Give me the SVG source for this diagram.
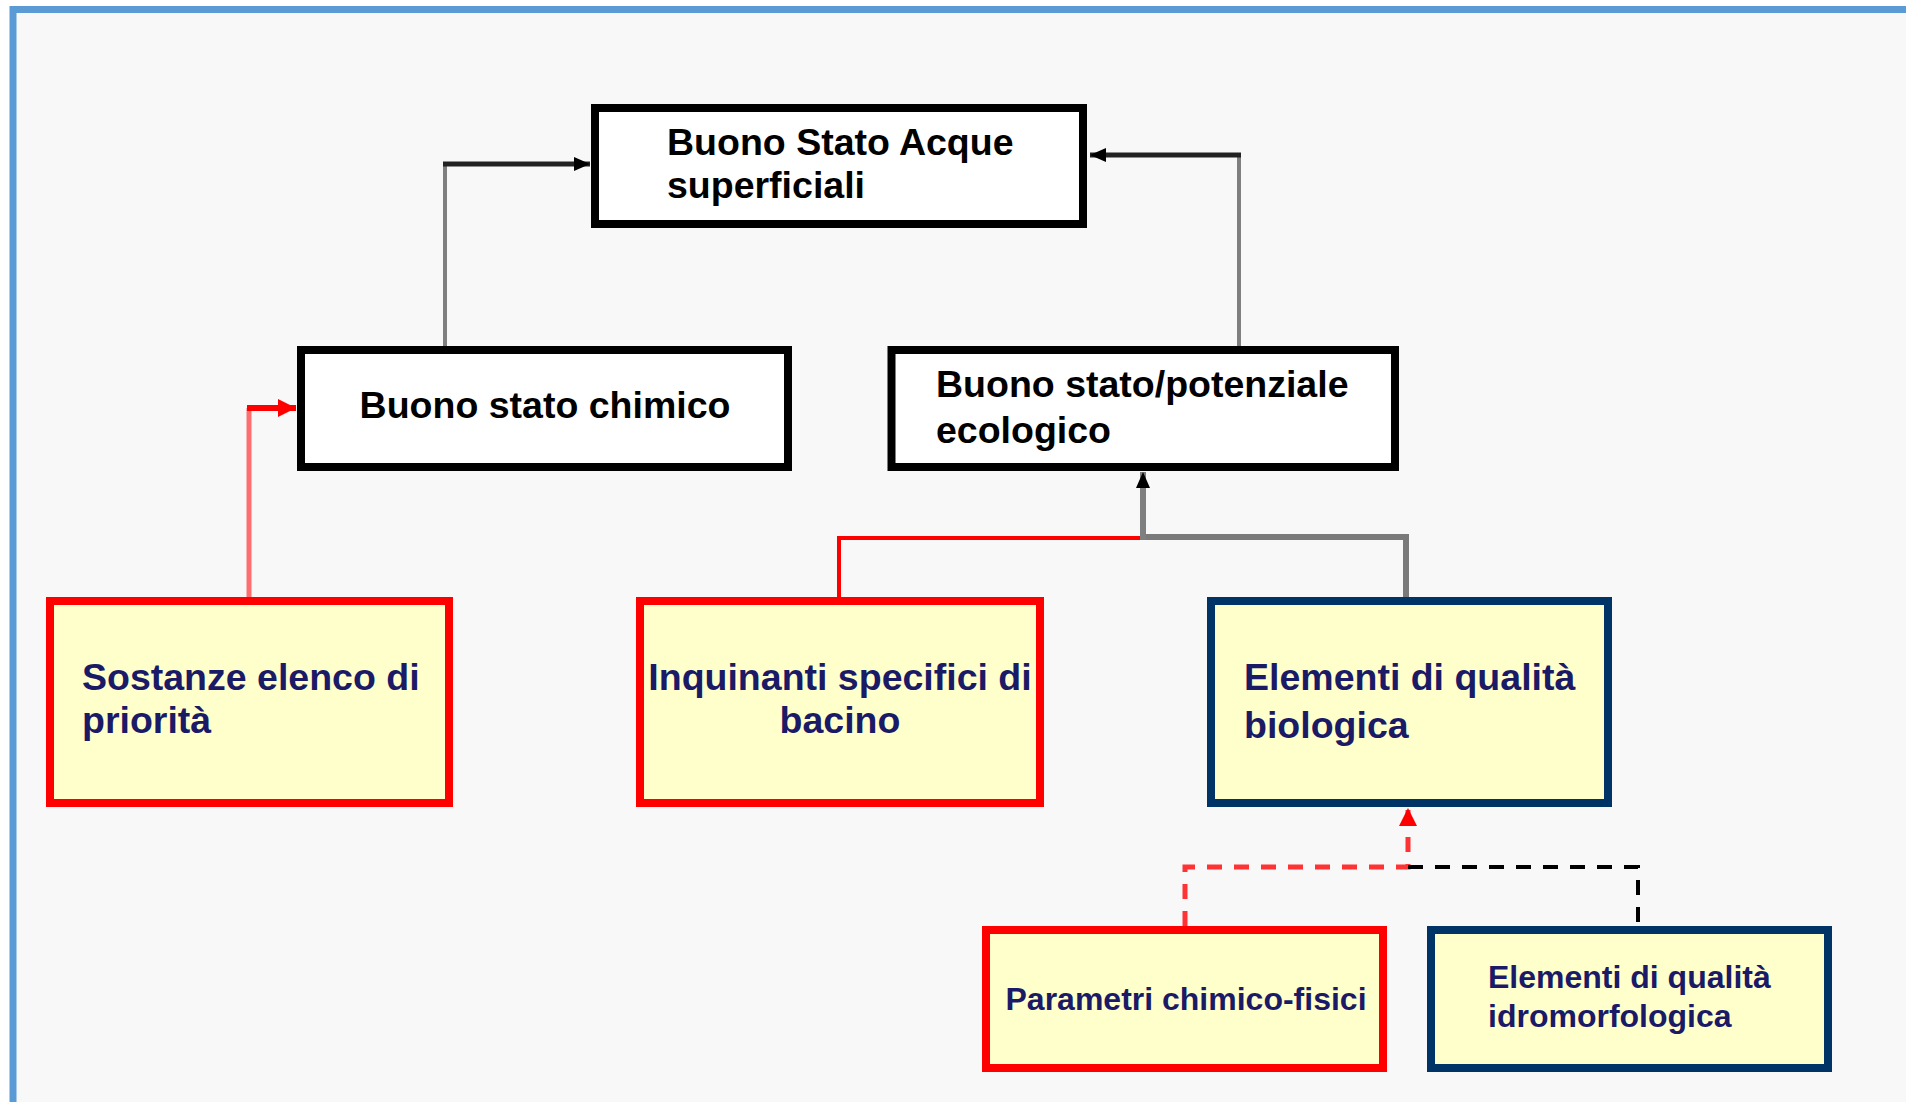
<svg xmlns="http://www.w3.org/2000/svg" width="1906" height="1102" viewBox="0 0 1906 1102">
<defs>
<style>
.box{stroke-width:8}
.white{fill:#ffffff;stroke:#000000}
.red{fill:#ffffcc;stroke:#ff0000}
.navy{fill:#ffffcc;stroke:#003366}
.t{font-family:"Liberation Sans",Arial,sans-serif;font-weight:bold;font-size:37.5px;fill:#000000}
.ty{fill:#1a1a66}
.s{font-size:32px}
.c{fill:none}
</style>
<marker id="ab" markerUnits="userSpaceOnUse" markerWidth="16" markerHeight="14" viewBox="0 0 16 14" refX="16" refY="7" orient="auto"><path d="M0,0 L16,7 L0,14 z" fill="#000000"/></marker>
<marker id="ar" markerUnits="userSpaceOnUse" markerWidth="18" markerHeight="18" viewBox="0 0 18 18" refX="18" refY="9" orient="auto"><path d="M0,0 L18,9 L0,18 z" fill="#ff0000"/></marker>
</defs>
<rect x="0" y="0" width="1906" height="1102" fill="#ffffff"/>
<rect x="13" y="9.5" width="1900" height="1100" fill="#f8f8f8" stroke="#5b9bd5" stroke-width="7"/>

<g id="connectors">
<path class="c" d="M445,346 V164" stroke="#7f7f7f" stroke-width="4"/>
<path class="c" d="M443,164 H590" stroke="#222222" stroke-width="5" marker-end="url(#ab)"/>
<path class="c" d="M1239,346 V155" stroke="#7f7f7f" stroke-width="4"/>
<path class="c" d="M1241,155 H1090" stroke="#222222" stroke-width="5" marker-end="url(#ab)"/>
<path class="c" d="M249,597 V408" stroke="#ff6e6e" stroke-width="5"/>
<path class="c" d="M247,408 H296" stroke="#ff0000" stroke-width="6" marker-end="url(#ar)"/>
<path class="c" d="M839,597 V538 H1143" stroke="#ff0000" stroke-width="4"/>
<path class="c" d="M1143,537 H1406 V597" stroke="#7a7a7a" stroke-width="6"/>
<path class="c" d="M1143,540 V472" stroke="#7f7f7f" stroke-width="6" marker-end="url(#ab)"/>
<path class="c" d="M1185,926 V867 H1408 V808" stroke="#ff3333" stroke-width="5" stroke-dasharray="15 12" marker-end="url(#ar)"/>
<path class="c" d="M1408,867 H1638 V937" stroke="#000000" stroke-width="4" stroke-dasharray="15 12"/>
</g>

<g id="n-acque">
<rect class="box white" x="595" y="108" width="488" height="116"/>
<text class="t" x="667" y="155">Buono Stato Acque</text>
<text class="t" x="667" y="198">superficiali</text>
</g>
<g id="n-chimico">
<rect class="box white" x="301" y="350" width="487" height="117"/>
<text class="t" x="545" y="418" text-anchor="middle">Buono stato chimico</text>
</g>
<g id="n-ecologico">
<rect class="box white" x="891.5" y="350" width="503.5" height="117"/>
<text class="t" x="936" y="397">Buono stato/potenziale</text>
<text class="t" x="936" y="443">ecologico</text>
</g>
<g id="n-sostanze">
<rect class="box red" x="50" y="601" width="399" height="202"/>
<text class="t ty" x="82" y="690">Sostanze elenco di</text>
<text class="t ty" x="82" y="733">priorità</text>
</g>
<g id="n-inquinanti">
<rect class="box red" x="640" y="601" width="400" height="202"/>
<text class="t ty" x="840" y="690" text-anchor="middle">Inquinanti specifici di</text>
<text class="t ty" x="840" y="733" text-anchor="middle">bacino</text>
</g>
<g id="n-biologica">
<rect class="box navy" x="1211" y="601" width="397" height="202"/>
<text class="t ty" x="1244" y="690">Elementi di qualità</text>
<text class="t ty" x="1244" y="738">biologica</text>
</g>
<g id="n-parametri">
<rect class="box red" x="986" y="930" width="397" height="138"/>
<text class="t ty s" x="1186" y="1010" text-anchor="middle">Parametri chimico-fisici</text>
</g>
<g id="n-idromorfologica">
<rect class="box navy" x="1431" y="930" width="397" height="138"/>
<text class="t ty s" x="1488" y="988">Elementi di qualità</text>
<text class="t ty s" x="1488" y="1027">idromorfologica</text>
</g>
</svg>
